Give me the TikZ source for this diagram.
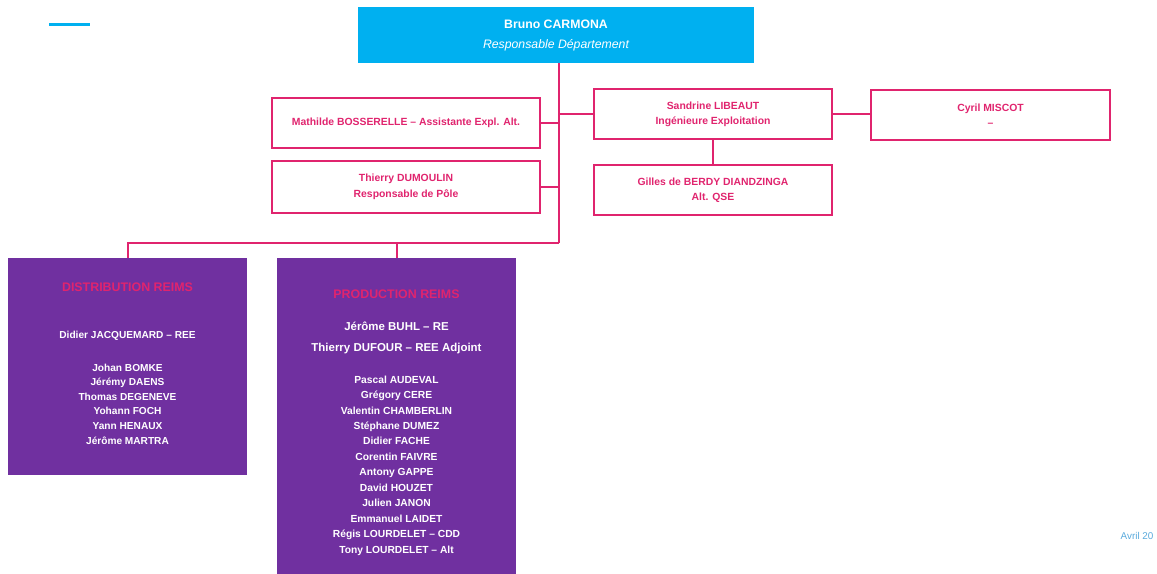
\documentclass[tikz,border=0pt]{standalone}
\usepackage{fontspec}
\setmainfont{Liberation Sans}
\definecolor{deptblue}{RGB}{0,176,240}
\definecolor{linkpink}{RGB}{224,36,110}
\definecolor{teampurple}{RGB}{112,48,160}
\definecolor{datecolor}{RGB}{90,170,220}
\begin{document}
\begin{tikzpicture}[x=0.75pt,y=-0.75pt]
  \tikzstyle{head}=[rectangle,fill=deptblue,text=white,inner sep=0pt,align=center,
    minimum width=297pt,minimum height=42pt,font=\fontsize{9.2}{15}\selectfont]
  \tikzstyle{member}=[rectangle,draw=linkpink,line width=1.5pt,text=linkpink,inner sep=0pt,
    align=center,minimum height=37.5pt,font=\fontsize{7.8}{11.6}\selectfont\bfseries]
  \tikzstyle{team}=[rectangle,fill=teampurple,inner sep=0pt,minimum width=179.25pt]
  \tikzstyle{teamtitle}=[text=linkpink,font=\fontsize{9.3}{11}\selectfont\bfseries]
  \tikzstyle{teamtext}=[text=white,align=center,inner sep=0pt]
  \tikzstyle{link}=[draw=linkpink,line width=1.5pt]
  \useasboundingbox (0,0) rectangle (1157,574);
  \draw[deptblue,line width=2.25pt] (49,25) -- (90,25);
  % department head
  \node[head] (top) at (556,35) {\bfseries Bruno CARMONA\\\itshape Responsable Département};
  % staff around the head
  \node[member,minimum width=201pt] (math) at (406,123) {Mathilde BOSSERELLE – Assistante Expl. Alt.};
  \node[member,minimum width=201pt,minimum height=39pt] (thier) at (406,187) {Thierry DUMOULIN\\Responsable de Pôle};
  \node[member,minimum width=178.5pt] (sand) at (713,114.5) {Sandrine LIBEAUT\\Ingénieure Exploitation};
  \node[member,minimum width=179.25pt] (cyril) at (990.5,115) {Cyril MISCOT\\–};
  \node[member,minimum width=178.5pt] (gilles) at (713,190) {Gilles de BERDY DIANDZINGA\\Alt. QSE};
  \coordinate (hub) at (559,243);
  % teams
  \node[team,minimum height=162.75pt] (dist) at (127.5,366.5) {};
  \node[team,minimum height=237pt] (prod) at (396.5,416) {};
  \node[teamtitle] (distTitle) at (127.5,287) {DISTRIBUTION REIMS};
  \node[teamtext,font=\fontsize{7.6}{10.95}\selectfont\bfseries] (distLead) at (127.5,336) {Didier JACQUEMARD – REE};
  \node[teamtext,font=\fontsize{7.6}{10.95}\selectfont\bfseries] (distStaff) at (127.5,404)
    {Johan BOMKE\\Jérémy DAENS\\Thomas DEGENEVE\\Yohann FOCH\\Yann HENAUX\\Jérôme MARTRA};
  \node[teamtitle] (prodTitle) at (396.5,294) {PRODUCTION REIMS};
  \node[teamtext,font=\fontsize{8.6}{15.75}\selectfont\bfseries] (prodLead) at (396.5,338)
    {Jérôme BUHL – RE\\Thierry DUFOUR – REE Adjoint};
  \node[teamtext,font=\fontsize{7.7}{11.6}\selectfont\bfseries] (prodStaff) at (396.5,465.5)
    {Pascal AUDEVAL\\Grégory CERE\\Valentin CHAMBERLIN\\Stéphane DUMEZ\\Didier FACHE\\Corentin FAIVRE\\
     Antony GAPPE\\David HOUZET\\Julien JANON\\Emmanuel LAIDET\\Régis LOURDELET – CDD\\Tony LOURDELET – Alt};
  % links
  \draw[link] (hub |- top.south) -- (hub);
  \draw[link] (math.east) -- (math.east -| hub);
  \draw[link] (thier.east) -- (thier.east -| hub);
  \draw[link] (hub |- sand.west) -- (sand.west);
  \draw[link] (sand.east) -- (sand.east -| cyril.west);
  \draw[link] (sand.south) -- (gilles.north);
  \draw[link] (hub) -- (hub -| dist.north) -- (dist.north);
  \draw[link] (hub -| prod.north) -- (prod.north);
  \node[anchor=west,text=datecolor,font=\fontsize{7.4}{8}\selectfont] (date) at (1116,536) {Avril 20};
\end{tikzpicture}
\end{document}
